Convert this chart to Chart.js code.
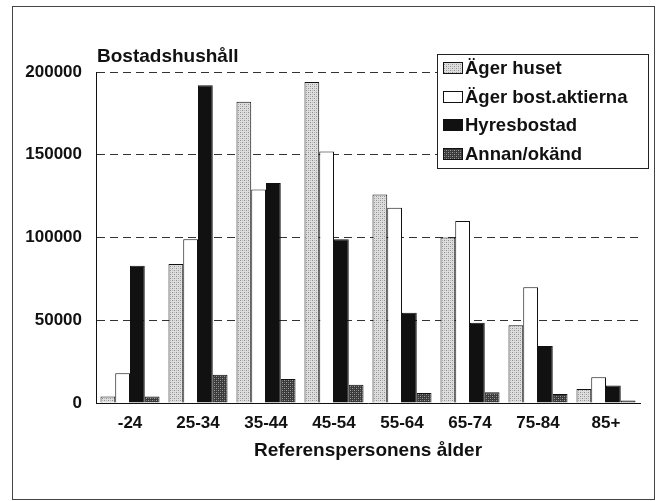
<!DOCTYPE html>
<html>
<head>
<meta charset="utf-8">
<script src="https://cdn.jsdelivr.net/npm/chart.js@4/dist/chart.umd.min.js"></script>
<style>
  html, body { margin: 0; padding: 0; background: #fff; }
  canvas { display: block; }
</style>
</head>
<body>
<canvas id="c" width="659" height="501"></canvas>
<script>
// ---- data ----
const categories = ['-24', '25-34', '35-44', '45-54', '55-64', '65-74', '75-84', '85+'];
const seriesNames = ['Äger huset', 'Äger bost.aktierna', 'Hyresbostad', 'Annan/okänd'];
const agerHuset = [4000, 84000, 182000, 194000, 126000, 100000, 47000, 8500];
const agerBostAktierna = [18000, 99000, 129000, 152000, 118000, 110000, 70000, 15500];
const hyresbostad = [83000, 192000, 133000, 99000, 54500, 48500, 34500, 10500];
const annanOkand = [4000, 17000, 14500, 11000, 6000, 6500, 5500, 1500];
const yTicks = [0, 50000, 100000, 150000, 200000];
const yTitle = 'Bostadshushåll';
const xTitle = 'Referenspersonens ålder';

// ---- patterns (stipple) ----
function makePattern(base, dot, mid) {
  const p = document.createElement('canvas');
  p.width = 4; p.height = 4;
  const g = p.getContext('2d');
  g.fillStyle = base; g.fillRect(0, 0, 4, 4);
  g.fillStyle = dot;
  g.fillRect(0, 0, 1, 1); g.fillRect(2, 2, 1, 1);
  g.fillStyle = mid;
  g.fillRect(2, 0, 1, 1); g.fillRect(0, 2, 1, 1);
  return document.getElementById('c').getContext('2d').createPattern(p, 'repeat');
}
const lightPat = makePattern('#dedede', '#8e8e8e', '#b8b8b8');
const darkPat = makePattern('#3a3a3a', '#a0a0a0', '#707070');

const FONT = 'Liberation Sans, Arial, Helvetica, sans-serif';

const fills = [lightPat, '#ffffff', '#111111', darkPat];
const seriesData = [agerHuset, agerBostAktierna, hyresbostad, annanOkand];

const decor = {
  id: 'decor',
  beforeDraw(chart) {
    const ctx = chart.ctx;
    ctx.save();
    ctx.fillStyle = '#fff';
    ctx.fillRect(0, 0, chart.width, chart.height);
    ctx.restore();
  },
  afterDraw(chart) {
    const ctx = chart.ctx;
    const ca = chart.chartArea;
    ctx.save();
    // outer frame
    ctx.strokeStyle = '#444';
    ctx.lineWidth = 1;
    ctx.strokeRect(12.5, 6.5, 642, 493);
    // y title
    ctx.fillStyle = '#111';
    ctx.font = 'bold 19px ' + FONT;
    ctx.textAlign = 'left';
    ctx.textBaseline = 'middle';
    ctx.fillText(yTitle, 97, 57);
    // x title
    ctx.textAlign = 'center';
    ctx.fillText(xTitle, (ca.left + ca.right) / 2, 451);
    // legend
    const lx = 437, ly = 54, lw = 211, lh = 114;
    ctx.fillStyle = '#fff';
    ctx.fillRect(lx, ly, lw, lh);
    ctx.strokeStyle = '#222';
    ctx.strokeRect(lx + 0.5, ly + 0.5, lw, lh);
    ctx.font = 'bold 18.5px ' + FONT;
    chart.data.datasets.forEach((ds, i) => {
      const cy = 68 + i * 28.5;
      ctx.fillStyle = ds.backgroundColor;
      ctx.fillRect(443, Math.round(cy - 6), 20, 12);
      ctx.strokeStyle = '#111';
      ctx.strokeRect(443.5, Math.round(cy - 6) + 0.5, 19, 11);
      ctx.fillStyle = '#111';
      ctx.textAlign = 'left';
      ctx.textBaseline = 'middle';
      ctx.fillText(ds.label, 465, cy + 1);
    });
    ctx.restore();
  }
};

new Chart(document.getElementById('c'), {
  type: 'bar',
  data: {
    labels: categories,
    datasets: seriesNames.map((name, i) => ({
      label: name,
      data: seriesData[i],
      backgroundColor: fills[i],
      borderColor: '#111',
      borderWidth: 1,
      borderSkipped: 'bottom',
      categoryPercentage: 0.868,
      barPercentage: 1.0
    }))
  },
  options: {
    responsive: false,
    animation: false,
    devicePixelRatio: 1,
    layout: { padding: { top: 72, right: 19, left: 0, bottom: 0 } },
    plugins: { legend: { display: false }, tooltip: { enabled: false } },
    scales: {
      x: {
        offset: true,
        grid: { display: false, drawTicks: false },
        border: { display: true, color: '#111', width: 1 },
        ticks: { color: '#111', font: { family: FONT, size: 17, weight: 'bold' }, padding: 10, maxRotation: 0, autoSkip: false },
        afterFit(scale) { scale.height = 98; }
      },
      y: {
        min: 0,
        max: 200000,
        afterBuildTicks(scale) { scale.ticks = yTicks.map(v => ({ value: v })); },
        grid: {
          drawTicks: false,
          color: ctx => (ctx.tick && ctx.tick.value === 0) ? 'rgba(0,0,0,0)' : '#333',
          lineWidth: 1
        },
        border: { display: true, color: '#111', width: 1, dash: [8, 5] },
        ticks: { color: '#111', font: { family: FONT, size: 17, weight: 'bold' }, padding: 14, callback: v => String(v) },
        afterFit(scale) { scale.width = 96; }
      }
    }
  },
  plugins: [decor]
});
</script>
</body>
</html>
